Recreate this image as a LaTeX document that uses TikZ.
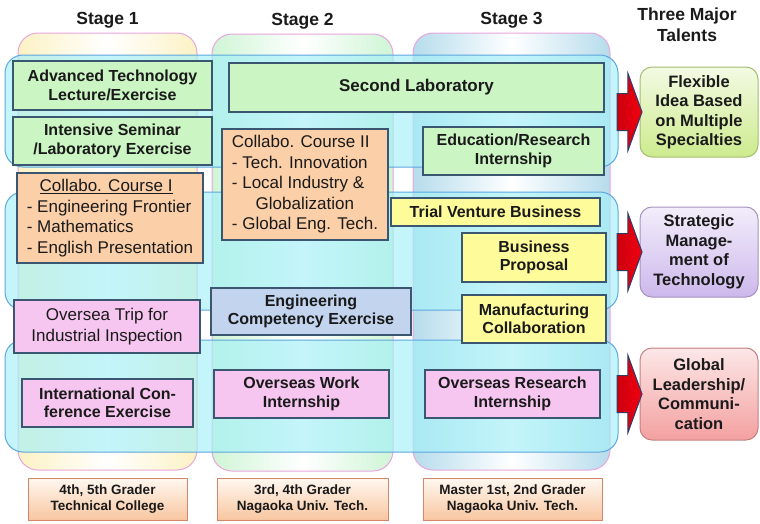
\documentclass[tikz,border=0pt]{standalone}
\usepackage{fontspec}
\setmainfont{Liberation Sans}
\usepackage{tikz}
\usetikzlibrary{shapes,arrows,positioning}

\definecolor{txtdark}{HTML}{1A1A1A}
\definecolor{colpink}{HTML}{E8A6DC}
\definecolor{colyellow}{HTML}{FCF2C4}
\definecolor{colgreen}{HTML}{CFF5D6}
\definecolor{colblue}{HTML}{B6DCEC}
\definecolor{bandblue}{HTML}{5EA6DE}
\definecolor{bandcyan}{HTML}{A4F0F8}
\definecolor{boxedge}{HTML}{3B5670}
\definecolor{boxgreen}{HTML}{CCF5C4}
\definecolor{boxorange}{HTML}{FBCFA8}
\definecolor{boxyellow}{HTML}{FDFB9A}
\definecolor{boxblue}{HTML}{C2D4EE}
\definecolor{boxpink}{HTML}{F6C6F0}
\definecolor{arrowred}{HTML}{F00010}
\definecolor{arrowedge}{HTML}{2E3C6C}
\definecolor{gradetop}{HTML}{FFF8F0}
\definecolor{gradebot}{HTML}{F8C6A0}
\definecolor{gradeedge}{HTML}{D3866A}
\definecolor{talgreen}{HTML}{CDEB8E}
\definecolor{talviolet}{HTML}{CDB8EC}
\definecolor{talred}{HTML}{F4A0A0}

\begin{document}
\begin{tikzpicture}[x=1pt,y=-1pt,inner sep=0pt,outer sep=0pt,text=txtdark,
                    node distance=7pt]
  \tikzstyle{stagecol}=[draw=colpink,line width=1pt,rounded corners=20pt,
                        left color=#1,right color=#1,middle color=white,
                        minimum height=437pt]
  \tikzstyle{rowband}=[draw=bandblue,line width=1pt,rounded corners=18pt,
                       fill=bandcyan,fill opacity=0.65,minimum width=613pt]
  \tikzstyle{stagehead}=[font=\fontsize{17.5}{21}\selectfont\bfseries,inner sep=3pt,align=center]
  \tikzstyle{course}=[draw=boxedge,line width=1.5pt,align=center,
                      font=\fontsize{16}{18.5}\selectfont\bfseries]
  \tikzstyle{plaincourse}=[course,font=\fontsize{17}{20.5}\selectfont]
  \tikzstyle{talent}=[draw=#1!80!black,line width=1pt,rounded corners=12pt,
                      top color=#1!25!white,bottom color=#1,align=center,
                      minimum width=118pt,minimum height=90pt,
                      font=\fontsize{16.5}{19.5}\selectfont\bfseries]
  \tikzstyle{grade}=[draw=gradeedge,line width=1pt,top color=gradetop,bottom color=gradebot,
                     align=center,minimum height=42pt,font=\fontsize{13.5}{15.5}\selectfont\bfseries]
  \tikzstyle{bigarrow}=[single arrow,draw=arrowedge,line width=1pt,
                        left color=arrowred!85!black,right color=arrowred,
                        minimum height=25pt,inner xsep=0pt,inner ysep=18pt,
                        single arrow head extend=20pt,single arrow tip angle=140]

  \useasboundingbox (0,0) rectangle (760,523);

  \node[stagecol=colyellow,minimum width=179pt] (COLA) at (107.5,251.5) {};
  \node[stagecol=colgreen,minimum width=181pt]  (COLB) at (302.5,252.5) {};
  \node[stagecol=colblue,minimum width=197pt]   (COLC) at (511.5,251.5) {};

  \node[stagehead,above=2pt of COLA] (HEADA) {Stage 1};
  \node[stagehead,above=2pt of COLB] (HEADB) {Stage 2};
  \node[stagehead,above=2pt of COLC] (HEADC) {Stage 3};
  \node[stagehead] (HEADT) at (687,25) {Three Major\\Talents};

  \node[rowband,minimum height=112pt] (BANDA) at (311.5,111) {};
  \node[rowband,minimum height=118pt] (BANDB) at (311.5,251) {};
  \node[rowband,minimum height=112pt] (BANDC) at (311.5,396) {};

  \node[course,fill=boxgreen,minimum width=199pt,minimum height=49pt]
        (ADV) at (112.5,85.5) {Advanced Technology\\Lecture/Exercise};
  \node[course,fill=boxgreen,minimum width=199pt,minimum height=48pt]
        (INTENS) [below=7pt of ADV] {Intensive Seminar\\/Laboratory Exercise};
  \node[course,fill=boxgreen,minimum width=375pt,minimum height=49pt,
        font=\fontsize{17}{20}\selectfont\bfseries]
        (SECLAB) at (416.5,87.5) {Second Laboratory};
  \node[course,fill=boxgreen,minimum width=181pt,minimum height=48pt]
        (EDU) at (513.5,151) {Education/Research\\Internship};
  \node[plaincourse,fill=boxorange,minimum width=166pt,minimum height=111pt,align=left]
        (COLLABB) at (305,184.5) {Collabo. Course II\\- Tech. Innovation\\- Local Industry \&\\
        \hspace*{1.4em}Globalization\\- Global Eng. Tech.};
  \node[plaincourse,fill=boxorange,minimum width=186pt,minimum height=90pt,align=left]
        (COLLABA) at (110,218) {\hspace*{0.75em}\underline{Collabo. Course I}\\- Engineering Frontier\\
        - Mathematics\\- English Presentation};

  \node[course,fill=boxyellow,minimum width=209pt,minimum height=28pt]
        (TRIAL) at (495.5,212) {Trial Venture Business};
  \node[course,fill=boxyellow,minimum width=144pt,minimum height=49pt]
        (BIZ) at (534,257.5) {Business\\Proposal};
  \node[course,fill=boxyellow,minimum width=144pt,minimum height=48pt]
        (MANUF) at (534,319) {Manufacturing\\Collaboration};
  \node[course,fill=boxblue,minimum width=200pt,minimum height=47pt]
        (ENGCOMP) at (311,311.5) {Engineering\\Competency Exercise};
  \node[plaincourse,fill=boxpink,minimum width=186pt,minimum height=53pt]
        (TRIP) at (107,326.5) {Oversea Trip for\\Industrial Inspection};

  \node[course,fill=boxpink,minimum width=171pt,minimum height=48pt]
        (INTCONF) at (107.5,403) {International Con-\\ference Exercise};
  \node[course,fill=boxpink,minimum width=175pt,minimum height=48pt]
        (OWORK) at (301.5,394) {Overseas Work\\Internship};
  \node[course,fill=boxpink,minimum width=175pt,minimum height=48pt]
        (ORES) at (512.5,394) {Overseas Research\\Internship};

  \node[talent=talgreen] (TALA) at (699,112) {Flexible\\Idea Based\\on Multiple\\Specialties};
  \node[talent=talviolet] (TALB) at (699,252) {Strategic\\Manage-\\ment of\\Technology};
  \node[talent=talred,minimum height=92pt] (TALC) at (699,394) {Global\\Leadership/\\Communi-\\cation};

  \node[bigarrow,anchor=tip] (ARRA) at ([xshift=2pt]TALA.west) {};
  \node[bigarrow,anchor=tip] (ARRB) at ([xshift=2pt]TALB.west) {};
  \node[bigarrow,anchor=tip] (ARRC) at ([xshift=2pt]TALC.west) {};

  \node[grade,minimum width=159pt] (GRADEA) at (107.5,499) {4th, 5th Grader\\Technical College};
  \node[grade,minimum width=171pt] (GRADEB) at (302.5,499) {3rd, 4th Grader\\Nagaoka Univ. Tech.};
  \node[grade,minimum width=179pt] (GRADEC) at (512.5,499) {Master 1st, 2nd Grader\\Nagaoka Univ. Tech.};
\end{tikzpicture}
\end{document}
